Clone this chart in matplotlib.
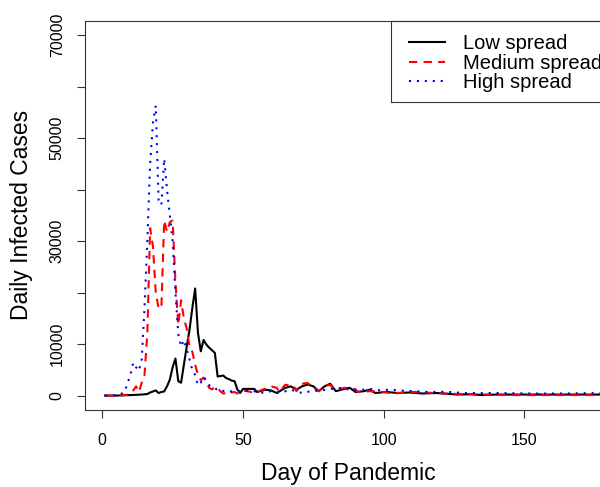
import matplotlib
matplotlib.use("Agg")
import matplotlib.pyplot as plt
from matplotlib.patches import Rectangle

# daily infected cases, (day, cases) vertices
low_days = [1, 5, 10, 14, 16, 17, 18, 19, 20, 21, 22, 23, 24, 25, 26, 27, 28, 29, 30,
            31, 32, 33, 34, 35, 36, 37, 38, 39, 40, 41, 42, 43, 44, 45, 46, 47, 48, 49,
            50, 54, 55, 56, 58, 60, 62, 65, 67, 69, 71, 73, 75, 77, 79, 81, 83, 86, 88,
            90, 93, 95, 97, 101, 105, 109, 114, 119, 126, 131, 135, 140, 152, 177]
low_cases = [0, 0, 100, 200, 300, 600, 800, 1000, 500, 700, 800, 1800, 3100, 5500, 7200,
             2800, 2500, 6000, 9500, 12800, 17000, 20800, 12200, 8600, 10800, 9900, 9300,
             8800, 8300, 3700, 3800, 3900, 3400, 3200, 2900, 2800, 1200, 500, 1300, 1300,
             700, 850, 1150, 1000, 500, 1500, 1800, 1150, 1800, 2150, 1800, 850, 1800, 2300,
             850, 1300, 1500, 700, 850, 1150, 500, 700, 500, 600, 400, 500, 200, 250, 100,
             200, 200, 200]

med_days = [1, 5, 8, 10, 11, 12, 13, 14, 15, 16, 17, 18, 19, 20, 21, 22, 23, 24, 25, 26,
            27, 28, 29, 30, 31, 32, 33, 34, 35, 36, 37, 38, 39, 40, 41, 42, 43, 44, 45, 46,
            47, 48, 50, 52, 54, 57, 60, 62, 63, 65, 68, 69, 71, 73, 75, 77, 79, 81, 83, 86,
            89, 91, 95, 100, 103, 111, 121, 128, 145, 164, 177]
med_cases = [0, 0, 100, 300, 1000, 1800, 700, 2500, 4000, 12000, 32500, 29000, 20000,
             17000, 17000, 34000, 31800, 33700, 34000, 22000, 13700, 18500, 15000, 13000,
             9500, 8500, 6000, 4000, 3000, 3500, 2500, 1500, 1200, 1700, 1500, 800, 400, 500,
             900, 600, 700, 400, 1000, 800, 500, 1150, 1800, 1500, 700, 2100, 1900, 850, 2300,
             2450, 1500, 850, 1950, 2050, 1150, 1500, 1500, 700, 850, 700, 400, 700, 400, 300,
             100, 100, 100]

high_days = [1, 5, 7, 8, 9, 10, 11, 12, 13, 14, 15, 16, 17, 18, 19, 20, 21, 22, 23, 24,
             25, 26, 27, 28, 29, 30, 31, 32, 33, 34, 35, 36, 37, 38, 39, 40, 41, 42, 44, 46,
             48, 50, 53, 56, 60, 63, 67, 71, 74, 78, 81, 85, 88, 93, 95, 99, 102, 107, 111,
             116, 122, 128, 140, 152, 164, 177]
high_cases = [0, 100, 400, 800, 2500, 4000, 6400, 5500, 4800, 7000, 17000, 30000, 45000,
              53000, 56300, 38000, 37000, 46000, 40000, 35000, 30000, 20000, 12000, 9500,
              10800, 9000, 7000, 5000, 4000, 2000, 2500, 3600, 3000, 2000, 1700, 1500, 1000,
              800, 1000, 800, 800, 900, 1000, 500, 850, 500, 1150, 500, 850, 1000, 1300, 1500,
              1150, 1150, 1300, 1000, 1150, 950, 850, 700, 750, 500, 500, 400, 400, 500]

x_ticks = [0, 50, 100, 150]
y_ticks = [0, 10000, 20000, 30000, 40000, 50000, 60000, 70000]
y_tick_labels = ["0", "10000", "", "30000", "", "50000", "", "70000"]

plt.rcParams['font.family'] = ['Liberation Sans', 'DejaVu Sans']

fig = plt.figure(figsize=(6.0, 4.87), dpi=100)
# the plot region runs past the right edge of the picture, as in the reference
ax = fig.add_axes([0.1422, 0.1581, 0.8912, 0.7994])

lw = 1.5
ax.plot(low_days, low_cases, color='black', lw=lw, label='Low spread')
ax.plot(med_days, med_cases, color='red', lw=lw, dashes=(4, 3), dash_capstyle='butt',
        label='Medium spread')
ax.plot(high_days, high_cases, color='blue', lw=lw, dashes=(1, 2.8), dash_capstyle='butt',
        label='High spread')

# R style 4% padding around the data range
ax.set_xlim(1 - 0.04 * 176, 177 + 0.04 * 176)
ax.set_ylim(-2800, 72800)
ax.set_xticks(x_ticks)
ax.set_yticks(y_ticks)
ax.set_yticklabels(y_tick_labels, rotation=90, va='center')
ax.tick_params(direction='out', length=5.8, width=0.8, labelsize=11.5, color='#333333')
ax.tick_params(axis='x', pad=10.5)
ax.tick_params(axis='y', pad=9)
for s in ax.spines.values():
    s.set_linewidth(0.8)
    s.set_color('#333333')

ax.set_xlabel('Day of Pandemic', fontsize=16.5)
ax.xaxis.set_label_coords(0.491, -0.162)
ax.xaxis.label.set_va('center')
ax.set_ylabel('Daily Infected Cases', fontsize=16.5)
ax.yaxis.set_label_coords(-0.12, 0.5)
ax.yaxis.label.set_va('center')

# legend without frame, box drawn separately so spacing can follow R's
ax.legend(loc='upper left', bbox_to_anchor=(0.6054, 0.965), frameon=False,
          borderpad=0, borderaxespad=0, fontsize=14.5, handlelength=1.8,
          handletextpad=0.88, labelspacing=0.02)
ax.add_patch(Rectangle((0.5717, 0.7912), 0.6, 0.2088, transform=ax.transAxes,
                       fill=False, lw=0.8, edgecolor='#333333', clip_on=False))

fig.savefig('out.png', dpi=100)
